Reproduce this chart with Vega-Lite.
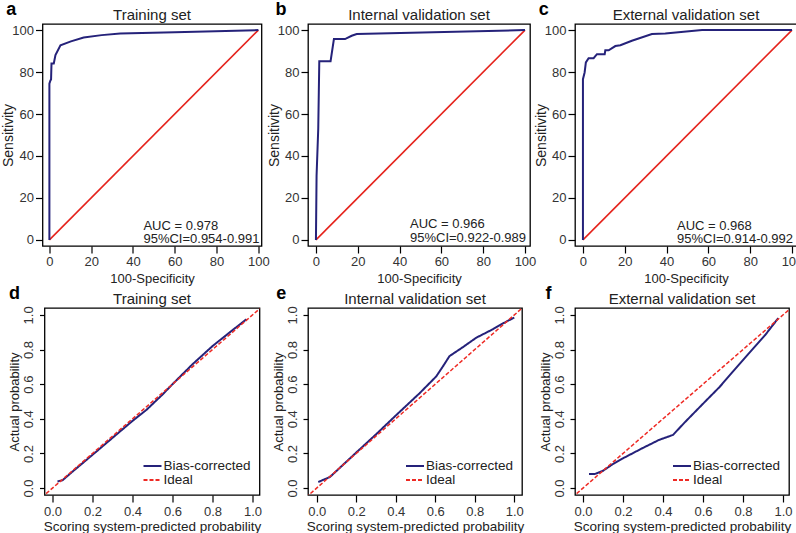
{
  "$schema": "https://vega.github.io/schema/vega-lite/v6.json",
  "background": "white",
  "padding": {"left": 0, "top": 0, "right": 0, "bottom": 0},
  "datasets": {
    "rocA": [
      {"x": 0, "y": 0}, {"x": 0, "y": 74.5}, {"x": 0.5, "y": 76}, {"x": 0.8, "y": 76.5}, {"x": 1, "y": 84.1},
      {"x": 2.1, "y": 84.1}, {"x": 2.9, "y": 88.1}, {"x": 5.3, "y": 92.8}, {"x": 10.3, "y": 94.6},
      {"x": 16.4, "y": 96.5}, {"x": 25, "y": 97.6}, {"x": 33.9, "y": 98.4}, {"x": 60, "y": 99}, {"x": 100, "y": 100}
    ],
    "rocB": [
      {"x": 0, "y": 0}, {"x": 0.3, "y": 30.7}, {"x": 1.1, "y": 53}, {"x": 1.6, "y": 85.2}, {"x": 7, "y": 85.2},
      {"x": 8.6, "y": 95.7}, {"x": 13.9, "y": 95.7}, {"x": 17.1, "y": 97.3}, {"x": 19.5, "y": 98.1}, {"x": 100, "y": 100}
    ],
    "rocC": [
      {"x": 0, "y": 0}, {"x": 0, "y": 76.6}, {"x": 0.8, "y": 79.8}, {"x": 1.4, "y": 84.6}, {"x": 2.7, "y": 86.6},
      {"x": 5.1, "y": 86.6}, {"x": 6.7, "y": 88.5}, {"x": 10.4, "y": 88.5}, {"x": 10.7, "y": 90.4}, {"x": 12.3, "y": 90.4},
      {"x": 15.5, "y": 92.4}, {"x": 17.9, "y": 92.8}, {"x": 23.4, "y": 94.9}, {"x": 33, "y": 98.1}, {"x": 39.4, "y": 98.4},
      {"x": 57, "y": 100}, {"x": 100, "y": 100}
    ],
    "calD": [
      {"x": 0.025, "y": 0.038, "s": "Bias-corrected"}, {"x": 0.05, "y": 0.045, "s": "Bias-corrected"},
      {"x": 0.1, "y": 0.095, "s": "Bias-corrected"}, {"x": 0.2, "y": 0.192, "s": "Bias-corrected"},
      {"x": 0.3, "y": 0.29, "s": "Bias-corrected"}, {"x": 0.4, "y": 0.388, "s": "Bias-corrected"},
      {"x": 0.47, "y": 0.452, "s": "Bias-corrected"}, {"x": 0.55, "y": 0.54, "s": "Bias-corrected"},
      {"x": 0.6, "y": 0.6, "s": "Bias-corrected"}, {"x": 0.7, "y": 0.715, "s": "Bias-corrected"},
      {"x": 0.8, "y": 0.82, "s": "Bias-corrected"}, {"x": 0.9, "y": 0.912, "s": "Bias-corrected"},
      {"x": 0.97, "y": 0.975, "s": "Bias-corrected"}
    ],
    "calE": [
      {"x": 0.008, "y": 0.035, "s": "Bias-corrected"}, {"x": 0.067, "y": 0.064, "s": "Bias-corrected"},
      {"x": 0.2, "y": 0.205, "s": "Bias-corrected"}, {"x": 0.3, "y": 0.31, "s": "Bias-corrected"},
      {"x": 0.403, "y": 0.422, "s": "Bias-corrected"}, {"x": 0.521, "y": 0.548, "s": "Bias-corrected"},
      {"x": 0.605, "y": 0.645, "s": "Bias-corrected"}, {"x": 0.639, "y": 0.703, "s": "Bias-corrected"},
      {"x": 0.672, "y": 0.762, "s": "Bias-corrected"}, {"x": 0.74, "y": 0.814, "s": "Bias-corrected"},
      {"x": 0.807, "y": 0.868, "s": "Bias-corrected"}, {"x": 0.891, "y": 0.917, "s": "Bias-corrected"},
      {"x": 0.941, "y": 0.95, "s": "Bias-corrected"}, {"x": 1.0, "y": 0.985, "s": "Bias-corrected"}
    ],
    "calF": [
      {"x": 0.03, "y": 0.081, "s": "Bias-corrected"}, {"x": 0.06, "y": 0.081, "s": "Bias-corrected"},
      {"x": 0.1, "y": 0.1, "s": "Bias-corrected"}, {"x": 0.15, "y": 0.139, "s": "Bias-corrected"},
      {"x": 0.2, "y": 0.172, "s": "Bias-corrected"}, {"x": 0.3, "y": 0.232, "s": "Bias-corrected"},
      {"x": 0.38, "y": 0.278, "s": "Bias-corrected"}, {"x": 0.45, "y": 0.307, "s": "Bias-corrected"},
      {"x": 0.51, "y": 0.381, "s": "Bias-corrected"}, {"x": 0.6, "y": 0.487, "s": "Bias-corrected"},
      {"x": 0.683, "y": 0.584, "s": "Bias-corrected"}, {"x": 0.748, "y": 0.671, "s": "Bias-corrected"},
      {"x": 0.829, "y": 0.778, "s": "Bias-corrected"}, {"x": 0.911, "y": 0.884, "s": "Bias-corrected"},
      {"x": 0.976, "y": 0.981, "s": "Bias-corrected"}
    ],
    "ideal": [
      {"x": -0.1, "y": -0.1, "s": "Ideal"}, {"x": 1.1, "y": 1.1, "s": "Ideal"}
    ],
    "diag": [
      {"x": 0, "y": 0}, {"x": 100, "y": 100}
    ]
  },
  "config": {
    "font": "Liberation Sans",
    "view": {"stroke": "#000", "strokeWidth": 1.3},
    "axis": {
      "grid": false, "domain": false, "ticks": true, "tickColor": "#000", "tickWidth": 1.2,
      "labelFont": "Liberation Sans", "labelFontSize": 13, "labelColor": "#333",
      "titleFont": "Liberation Sans", "titleFontSize": 13, "titleFontWeight": "normal", "titleColor": "#222",
      "labelFlush": false
    },
    "title": {"font": "Liberation Sans", "fontSize": 15, "fontWeight": "normal", "color": "#222", "offset": -22, "frame": "group"},
    "legend": {
      "orient": "bottom-right", "offset": 8, "symbolType": "M-1.5,0H1.5", "symbolSize": 144, "symbolStrokeWidth": 2,
      "labelFont": "Liberation Sans", "labelFontSize": 13.5, "labelColor": "#222", "rowPadding": 0, "padding": 0,
      "labelOffset": 4
    },
    "text": {"font": "Liberation Sans"}
  },
  "columns": 3,
  "bounds": "flush",
  "align": "all",
  "center": true,
  "spacing": {"row": 62, "column": 45},
  "resolve": {"scale": {"color": "independent", "strokeDash": "independent"}},
  "concat": [
    {
      "width": 219, "height": 222,
      "title": {"text": "Training set"},
      "encoding": {
        "x": {"field": "x", "type": "quantitative", "scale": {"domain": [-3.3, 101.5], "nice": false, "zero": false},
          "axis": {"values": [0, 20, 40, 60, 80, 100], "tickSize": 7, "labelPadding": 2, "titlePadding": 4}, "title": "100-Specificity"},
        "y": {"field": "y", "type": "quantitative", "scale": {"domain": [-2.9, 102.9], "nice": false, "zero": false},
          "axis": {"values": [0, 20, 40, 60, 80, 100], "tickSize": 7, "labelPadding": 2, "titleX": -27, "titleFontSize": 14}, "title": "Sensitivity"}
      },
      "layer": [
        {"data": {"name": "diag"}, "mark": {"type": "line", "color": "#e5231c", "strokeWidth": 1.6}},
        {"data": {"name": "rocA"}, "mark": {"type": "line", "color": "#25227a", "strokeWidth": 2},
          "encoding": {"order": [{"field": "x", "type": "quantitative"}, {"field": "y", "type": "quantitative"}]}},
        {"data": {"values": [{"x": 45, "y": 6.4, "t": "AUC = 0.978"}, {"x": 45, "y": 0.2, "t": "95%CI=0.954-0.991"}]},
          "mark": {"type": "text", "align": "left", "baseline": "middle", "fontSize": 13, "color": "#222"},
          "encoding": {"text": {"field": "t"}}},
        {"data": {"values": [{"x": -18.2, "y": 107.2, "t": "a"}]},
          "mark": {"type": "text", "align": "center", "baseline": "alphabetic", "fontSize": 18, "fontWeight": "bold", "color": "#000"},
          "encoding": {"text": {"field": "t"}}}
      ]
    },
    {
      "width": 222, "height": 222,
      "title": {"text": "Internal validation set"},
      "encoding": {
        "x": {"field": "x", "type": "quantitative", "scale": {"domain": [-3.8, 102.4], "nice": false, "zero": false},
          "axis": {"values": [0, 20, 40, 60, 80, 100], "tickSize": 7, "labelPadding": 2, "titlePadding": 4}, "title": "100-Specificity"},
        "y": {"field": "y", "type": "quantitative", "scale": {"domain": [-2.9, 102.9], "nice": false, "zero": false},
          "axis": {"values": [0, 20, 40, 60, 80, 100], "tickSize": 7, "labelPadding": 2, "titleX": -27, "titleFontSize": 14}, "title": "Sensitivity"}
      },
      "layer": [
        {"data": {"name": "diag"}, "mark": {"type": "line", "color": "#e5231c", "strokeWidth": 1.6}},
        {"data": {"name": "rocB"}, "mark": {"type": "line", "color": "#25227a", "strokeWidth": 2},
          "encoding": {"order": [{"field": "x", "type": "quantitative"}, {"field": "y", "type": "quantitative"}]}},
        {"data": {"values": [{"x": 45, "y": 7.6, "t": "AUC = 0.966"}, {"x": 45, "y": 0.7, "t": "95%CI=0.922-0.989"}]},
          "mark": {"type": "text", "align": "left", "baseline": "middle", "fontSize": 13, "color": "#222"},
          "encoding": {"text": {"field": "t"}}},
        {"data": {"values": [{"x": -16.7, "y": 107.2, "t": "b"}]},
          "mark": {"type": "text", "align": "center", "baseline": "alphabetic", "fontSize": 18, "fontWeight": "bold", "color": "#000"},
          "encoding": {"text": {"field": "t"}}}
      ]
    },
    {
      "width": 222, "height": 222,
      "title": {"text": "External validation set"},
      "encoding": {
        "x": {"field": "x", "type": "quantitative", "scale": {"domain": [-3.8, 102.4], "nice": false, "zero": false},
          "axis": {"values": [0, 20, 40, 60, 80, 100], "tickSize": 7, "labelPadding": 2, "titlePadding": 4}, "title": "100-Specificity"},
        "y": {"field": "y", "type": "quantitative", "scale": {"domain": [-2.9, 102.9], "nice": false, "zero": false},
          "axis": {"values": [0, 20, 40, 60, 80, 100], "tickSize": 7, "labelPadding": 2, "titleX": -27, "titleFontSize": 14}, "title": "Sensitivity"}
      },
      "layer": [
        {"data": {"name": "diag"}, "mark": {"type": "line", "color": "#e5231c", "strokeWidth": 1.6}},
        {"data": {"name": "rocC"}, "mark": {"type": "line", "color": "#25227a", "strokeWidth": 2},
          "encoding": {"order": [{"field": "x", "type": "quantitative"}, {"field": "y", "type": "quantitative"}]}},
        {"data": {"values": [{"x": 45, "y": 6.8, "t": "AUC = 0.968"}, {"x": 45, "y": 0.2, "t": "95%CI=0.914-0.992"}]},
          "mark": {"type": "text", "align": "left", "baseline": "middle", "fontSize": 13, "color": "#222"},
          "encoding": {"text": {"field": "t"}}},
        {"data": {"values": [{"x": -18.7, "y": 107.2, "t": "c"}]},
          "mark": {"type": "text", "align": "center", "baseline": "alphabetic", "fontSize": 18, "fontWeight": "bold", "color": "#000"},
          "encoding": {"text": {"field": "t"}}}
      ]
    },
    {
      "width": 215, "height": 187,
      "title": {"text": "Training set"},
      "encoding": {
        "x": {"field": "x", "type": "quantitative", "scale": {"domain": [-0.04, 1.035], "nice": false, "zero": false},
          "axis": {"values": [0, 0.2, 0.4, 0.6, 0.8, 1], "format": ".1f", "tickSize": 7, "labelPadding": 3, "titlePadding": 1, "titleFontSize": 13.5},
          "title": "Scoring system-predicted probability"},
        "y": {"field": "y", "type": "quantitative", "scale": {"domain": [-0.04, 1.04], "nice": false, "zero": false},
          "axis": {"values": [0, 0.2, 0.4, 0.6, 0.8, 1], "format": ".1f", "tickSize": 5, "labelPadding": 4, "titlePadding": 1,
            "labelAngle": 270, "labelAlign": "center", "labelBaseline": "bottom"},
          "title": "Actual probability"}
      },
      "layer": [
        {"data": {"name": "calD"}, "mark": {"type": "line", "strokeWidth": 2, "clip": true},
          "encoding": {
            "color": {"field": "s", "type": "nominal", "scale": {"domain": ["Bias-corrected", "Ideal"], "range": ["#25227a", "#ee2a24"]}, "legend": {"title": null}},
            "strokeDash": {"field": "s", "type": "nominal", "scale": {"domain": ["Bias-corrected", "Ideal"], "range": [[1, 0], [4, 2]]}, "legend": {"title": null}}
          }},
        {"data": {"name": "ideal"}, "mark": {"type": "line", "strokeWidth": 1.5, "clip": true},
          "encoding": {
            "color": {"field": "s", "type": "nominal", "scale": {"domain": ["Bias-corrected", "Ideal"], "range": ["#25227a", "#ee2a24"]}, "legend": {"title": null}},
            "strokeDash": {"field": "s", "type": "nominal", "scale": {"domain": ["Bias-corrected", "Ideal"], "range": [[1, 0], [4, 2]]}, "legend": {"title": null}}
          }},
        {"data": {"values": [{"x": -0.19, "y": 1.092, "t": "d"}]},
          "mark": {"type": "text", "align": "center", "baseline": "alphabetic", "fontSize": 18, "fontWeight": "bold", "color": "#000"},
          "encoding": {"text": {"field": "t"}}}
      ]
    },
    {
      "width": 214, "height": 187,
      "title": {"text": "Internal validation set"},
      "encoding": {
        "x": {"field": "x", "type": "quantitative", "scale": {"domain": [-0.044, 1.039], "nice": false, "zero": false},
          "axis": {"values": [0, 0.2, 0.4, 0.6, 0.8, 1], "format": ".1f", "tickSize": 7, "labelPadding": 3, "titlePadding": 1, "titleFontSize": 13.5},
          "title": "Scoring system-predicted probability"},
        "y": {"field": "y", "type": "quantitative", "scale": {"domain": [-0.04, 1.04], "nice": false, "zero": false},
          "axis": {"values": [0, 0.2, 0.4, 0.6, 0.8, 1], "format": ".1f", "tickSize": 5, "labelPadding": 4, "titlePadding": 1,
            "labelAngle": 270, "labelAlign": "center", "labelBaseline": "bottom"},
          "title": "Actual probability"}
      },
      "layer": [
        {"data": {"name": "calE"}, "mark": {"type": "line", "strokeWidth": 2, "clip": true},
          "encoding": {
            "color": {"field": "s", "type": "nominal", "scale": {"domain": ["Bias-corrected", "Ideal"], "range": ["#25227a", "#ee2a24"]}, "legend": {"title": null}},
            "strokeDash": {"field": "s", "type": "nominal", "scale": {"domain": ["Bias-corrected", "Ideal"], "range": [[1, 0], [4, 2]]}, "legend": {"title": null}}
          }},
        {"data": {"name": "ideal"}, "mark": {"type": "line", "strokeWidth": 1.5, "clip": true},
          "encoding": {
            "color": {"field": "s", "type": "nominal", "scale": {"domain": ["Bias-corrected", "Ideal"], "range": ["#25227a", "#ee2a24"]}, "legend": {"title": null}},
            "strokeDash": {"field": "s", "type": "nominal", "scale": {"domain": ["Bias-corrected", "Ideal"], "range": [[1, 0], [4, 2]]}, "legend": {"title": null}}
          }},
        {"data": {"values": [{"x": -0.18, "y": 1.092, "t": "e"}]},
          "mark": {"type": "text", "align": "center", "baseline": "alphabetic", "fontSize": 18, "fontWeight": "bold", "color": "#000"},
          "encoding": {"text": {"field": "t"}}}
      ]
    },
    {
      "width": 214, "height": 187,
      "title": {"text": "External validation set"},
      "encoding": {
        "x": {"field": "x", "type": "quantitative", "scale": {"domain": [-0.04, 1.03], "nice": false, "zero": false},
          "axis": {"values": [0, 0.2, 0.4, 0.6, 0.8, 1], "format": ".1f", "tickSize": 7, "labelPadding": 3, "titlePadding": 1, "titleFontSize": 13.5},
          "title": "Scoring system-predicted probability"},
        "y": {"field": "y", "type": "quantitative", "scale": {"domain": [-0.04, 1.04], "nice": false, "zero": false},
          "axis": {"values": [0, 0.2, 0.4, 0.6, 0.8, 1], "format": ".1f", "tickSize": 5, "labelPadding": 4, "titlePadding": 1,
            "labelAngle": 270, "labelAlign": "center", "labelBaseline": "bottom"},
          "title": "Actual probability"}
      },
      "layer": [
        {"data": {"name": "calF"}, "mark": {"type": "line", "strokeWidth": 2, "clip": true},
          "encoding": {
            "color": {"field": "s", "type": "nominal", "scale": {"domain": ["Bias-corrected", "Ideal"], "range": ["#25227a", "#ee2a24"]}, "legend": {"title": null}},
            "strokeDash": {"field": "s", "type": "nominal", "scale": {"domain": ["Bias-corrected", "Ideal"], "range": [[1, 0], [4, 2]]}, "legend": {"title": null}}
          }},
        {"data": {"name": "ideal"}, "mark": {"type": "line", "strokeWidth": 1.5, "clip": true},
          "encoding": {
            "color": {"field": "s", "type": "nominal", "scale": {"domain": ["Bias-corrected", "Ideal"], "range": ["#25227a", "#ee2a24"]}, "legend": {"title": null}},
            "strokeDash": {"field": "s", "type": "nominal", "scale": {"domain": ["Bias-corrected", "Ideal"], "range": [[1, 0], [4, 2]]}, "legend": {"title": null}}
          }},
        {"data": {"values": [{"x": -0.173, "y": 1.092, "t": "f"}]},
          "mark": {"type": "text", "align": "center", "baseline": "alphabetic", "fontSize": 18, "fontWeight": "bold", "color": "#000"},
          "encoding": {"text": {"field": "t"}}}
      ]
    }
  ]
}
